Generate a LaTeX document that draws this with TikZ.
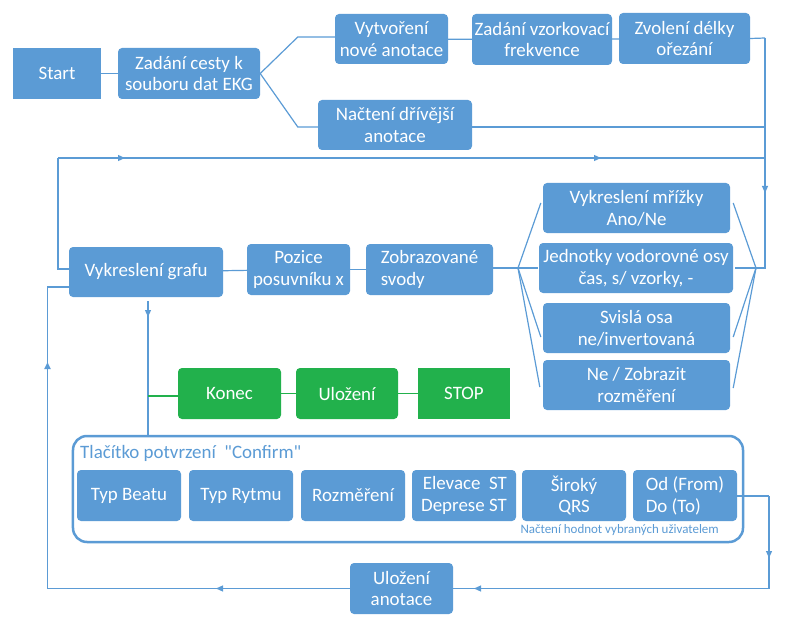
\documentclass[tikz,border=0pt]{standalone}
\usepackage{fontspec}
\setmainfont{Carlito}
\newfontfamily\qfont{Carlito}[Ligatures=TeXOff]
\usetikzlibrary{arrows.meta,calc}
\definecolor{bl}{HTML}{5B9BD5}
\definecolor{gr}{HTML}{22B14C}
\begin{document}
\begin{tikzpicture}[x=1bp,y=-1bp,
 bx/.style={fill=bl, text=white, rounded corners=4bp, inner sep=0bp, align=center, font=\fontsize{19}{22}\selectfont},
 sqbx/.style={bx, rounded corners=0bp},
 gbx/.style={bx, fill=gr},
 ln/.style={draw=bl, line width=1.2bp},
 gln/.style={draw=gr, line width=1.6bp},
 tip/.style={-{Triangle[width=6bp,length=7bp]}},
 lbl/.style={text=bl, inner sep=0bp}
]
\useasboundingbox (0,0) rectangle (792,628);

% top row
\node[sqbx, minimum width=88bp, minimum height=51bp] (start) at (57,73.5) {Start};
\node[bx, minimum width=142bp, minimum height=51bp] (zc) at (189,73.5) {Zadání cesty k\\souboru dat EKG};
\node[bx, minimum width=113bp, minimum height=50bp] (vyt) at (391.5,39) {Vytvoření\\nové anotace};
\node[bx, minimum width=140bp, minimum height=51bp] (zvf) at (542,39.5) {Zadání vzorkovací\\frekvence};
\node[bx, minimum width=131bp, minimum height=51bp] (zdo) at (684.5,38.5) {Zvolení délky\\ořezání};
\node[bx, minimum width=154bp, minimum height=50bp] (nac) at (395,125) {Načtení dřívější\\anotace};

% middle row
\node[bx, minimum width=154bp, minimum height=50bp] (vg) at (146,272) {Vykreslení grafu};
\node[bx, minimum width=103bp, minimum height=51bp] (pos) at (298.5,269.5) {Pozice\\posuvníku x};
\node[bx, minimum width=127bp, minimum height=51bp, align=left] (zs) at (429.5,269.5) {Zobrazované\\svody};

\node[bx, minimum width=187bp, minimum height=50bp] (b1) at (636.5,208) {Vykreslení mřížky\\Ano/Ne};
\node[bx, minimum width=194bp, minimum height=50bp] (b2) at (636,268) {Jednotky vodorovné osy\\čas, s/ vzorky, -};
\node[bx, minimum width=187bp, minimum height=50bp] (b3) at (636.5,328) {Svislá osa\\ne/invertovaná};
\node[bx, minimum width=187bp, minimum height=50bp] (b4) at (636.5,385) {Ne / Zobrazit\\rozměření};

% green row
\node[gbx, minimum width=103bp, minimum height=51bp] (konec) at (229.5,393.5) {Konec};
\node[gbx, minimum width=102bp, minimum height=51bp] (ulo) at (347,393.5) {Uložení};
\node[gbx, rounded corners=0bp, minimum width=92bp, minimum height=51bp] (stop) at (464,393.5) {STOP};

% confirm group
\node[draw=bl, line width=2.5bp, rounded corners=14bp, fill=white, minimum width=670bp, minimum height=106bp] (cf) at (408,489) {};
\node[lbl, anchor=west, font=\fontsize{19}{22}\qfont] (ttl) at (80,453) {Tlačítko potvrzení \ "Confirm"};
\node[bx, minimum width=104bp, minimum height=51bp] (i1) at (129,495.5) {Typ Beatu};
\node[bx, minimum width=104bp, minimum height=51bp] (i2) at (241,495.5) {Typ Rytmu};
\node[bx, minimum width=104bp, minimum height=51bp] (i3) at (353,495.5) {Rozměření};
\node[bx, minimum width=104bp, minimum height=51bp, align=right] (i4) at (464,495.5) {Elevace \ ST\\Deprese ST};
\node[bx, minimum width=104bp, minimum height=51bp] (i5) at (574,495.5) {Široký\\QRS};
\node[bx, minimum width=104bp, minimum height=51bp, align=left] (i6) at (685,495.5) {Od (From)\\Do (To)};
\node[lbl, anchor=east, font=\fontsize{13}{15}\selectfont] (nh) at (719,530) {Načtení hodnot vybraných uživatelem};

\node[bx, minimum width=103bp, minimum height=51bp] (ua) at (401.5,588.5) {Uložení\\anotace};

% connectors top
\draw[ln] (start) -- (zc);
\draw[ln] (zc.east) -- ($(vyt.west)+(-37,-2)$) -- ($(vyt.west)+(0,-2)$);
\draw[ln] (zc.east) -- ($(nac.west)+(-20,2)$) -- ($(nac.west)+(0,2)$);
\draw[ln] (vyt) -- (zvf);
\draw[ln] (zvf) -- (zdo);

\coordinate (rt) at (765,38);
\coordinate (rfan) at (756,268);
\coordinate (lfan) at (518,268);
\draw[ln] (zdo.east) -- (rt);
\draw[ln,tip] (rt) -- (765,193);
\draw[ln] (765,190) -- (765,268) -- (rfan);
\draw[ln] ($(nac.east)+(0,2)$) -- (765,127);

% top loop
\coordinate (lt) at (58,158);
\draw[ln] ($(vg.west)+(0,-3)$) -- (58,269) -- (lt);
\draw[ln,tip] (lt) -- (125,158);
\draw[ln,tip] (122,158) -- (601,158);
\draw[ln] (598,158) -- (765,158);

% middle row
\draw[ln] (vg) -- (pos);
\draw[ln] (pos) -- (zs);
\draw[ln] (zs.east |- lfan) -- (lfan);
\draw[ln] (lfan) -- ($(b1.west)+(-2,-5)$);
\draw[ln] (lfan) -- ($(b2.west)+(-1,0)$);
\draw[ln] (lfan) -- ($(b3.west)+(-2,9)$);
\draw[ln] (lfan) -- ($(b4.west)+(-3,2)$);
\draw[ln] (rfan) -- ($(b1.east)+(3,-5)$);
\draw[ln] (rfan) -- ($(b2.east)+(2,0)$);
\draw[ln] (rfan) -- ($(b3.east)+(3,9)$);
\draw[ln] (rfan) -- ($(b4.east)+(3,3)$);

% down from graph
\coordinate (vd) at (148,301);
\draw[ln,tip] (vd) -- (148,317);
\draw[ln] (148,313) -- (vd |- cf.north);
\draw[gln] ($(konec.west -| vd)+(0,2.5)$) -- ($(konec.west)+(0,2.5)$);
\draw[gln] (konec) -- (ulo);
\draw[gln] (ulo) -- (stop);

% bottom loop
\coordinate (br) at (769,496);
\coordinate (bb) at (769,588.5);
\draw[ln] (i6.east |- br) -- (br);
\draw[ln,tip] (br) -- (769,558);
\draw[ln] (769,555) -- (bb);
\draw[ln,tip] (bb) -- (474,588.5);
\draw[ln] (477,588.5) -- (ua.east);
\draw[ln,tip] (ua.west) -- (216,588.5);
\coordinate (bl1) at (47.5,588.5);
\draw[ln, line width=1.8bp] (219,588.5) -- (bl1);
\draw[ln, line width=1.8bp, tip] (bl1) -- (47.5,362);
\draw[ln, line width=1.8bp] (47.5,365) -- (47.5,287) -- ($(vg.west)+(0,15)$);
\end{tikzpicture}
\end{document}
